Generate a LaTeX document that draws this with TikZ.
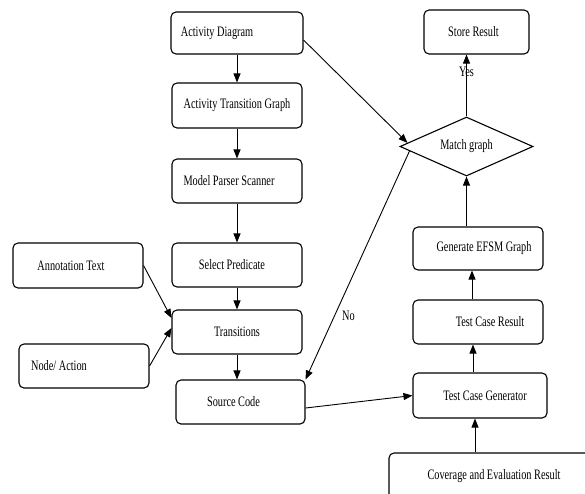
\documentclass[tikz,border=0pt]{standalone}
\usepackage{fontspec}
\setmainfont{Liberation Serif}
\usepackage{graphicx}
\usetikzlibrary{arrows.meta, positioning, shapes.geometric, calc}
\newcommand{\tallText}[1]{\scalebox{1}[1.4]{#1}}

\begin{document}
\begin{tikzpicture}[x=1pt, y=-1pt,
    box/.style={draw, line width=1.1pt, rounded corners=5pt, minimum width=130pt, minimum height=44pt, inner sep=2pt, font=\fontsize{10.3}{12}\selectfont},
    decision/.style={draw, diamond, line width=1.1pt, aspect=2.25, inner sep=0pt, minimum width=133pt, minimum height=59pt, font=\fontsize{10.3}{12}\selectfont},
    arrow/.style={-{Triangle[length=9pt, width=7pt]}, line width=0.9pt},
    lbl/.style={font=\fontsize{10.3}{12}\selectfont, inner sep=1pt}
]
    \clip (0,0) rectangle (585,493);

    % Left column
    \node[box, minimum width=132pt, minimum height=42pt] (actdiag) at (237,33) {\tallText{Activity Diagram}\hspace{40pt}\mbox{}};
    \node[box, minimum height=45pt] (atg) at (237,105.5) {\tallText{Activity Transition Graph}};
    \node[box] (parser) at (237,181) {\tallText{Model Parser Scanner}\hspace{16pt}\mbox{}};
    \node[box] (predicate) at (237,265) {\tallText{Select Predicate}\hspace{10pt}\mbox{}};
    \node[box] (trans) at (237,332) {\tallText{Transitions}};
    \node[box, minimum width=129pt] (source) at (240.5,402) {\tallText{Source Code}\hspace{14pt}\mbox{}};

    % Inputs to transitions
    \node[box, minimum height=45pt] (annot) at (78,265.5) {\tallText{Annotation Text}\hspace{14pt}\mbox{}};
    \node[box] (nodeact) at (84,366) {\tallText{Node/ Action}\hspace{50pt}\mbox{}};

    % Right column
    \node[box, minimum width=105pt] (store) at (476.5,32) {\tallText{Store Result}\hspace{6pt}\mbox{}};
    \node[decision] (match) at (466.5,146.5) {\tallText{Match graph}};
    \node[box, minimum height=43pt] (efsm) at (478,248.5) {\hspace{12pt}\tallText{Generate EFSM Graph}};
    \node[box] (tcresult) at (478,322) {\hspace{24pt}\tallText{Test Case Result}};
    \node[box, minimum width=134pt, minimum height=45pt] (tcgen) at (480,395.5) {\hspace{10pt}\tallText{Test Case Generator}};
    \node[box, minimum width=210pt, minimum height=46pt] (coverage) at (494,476) {\tallText{Coverage and Evaluation Result}};

    % Flow down the left column
    \draw[arrow] (actdiag) -- (atg);
    \draw[arrow] (atg) -- (parser);
    \draw[arrow] (parser) -- (predicate);
    \draw[arrow] (predicate) -- (trans);
    \draw[arrow] (trans.south) -- (trans.south |- source.north);
    \draw[arrow] (annot.east) -- ([yshift=14pt]trans.west);
    \draw[arrow] (nodeact.east) -- ([yshift=4pt]trans.west);

    % Matching
    \draw[arrow] ([yshift=-7pt]actdiag.east) -- ($(match.west)!0.12!(match.north)$);
    \draw[arrow] ($(match.west)!0.15!(match.south)$) -- node[lbl, pos=0.72, right=6pt] {\tallText{No}} (source.north east);
    \draw[arrow] (match.north) -- node[lbl, pos=0.72] {\tallText{Yes}} (match.north |- store.south);

    % Flow up the right column
    \draw[arrow] ([yshift=-6pt]source.east) -- (tcgen.west);
    \draw[arrow] ([xshift=-5pt]tcgen.south |- coverage.north) -- ([xshift=-5pt]tcgen.south);
    \draw[arrow] ([xshift=-7pt]tcgen.north) -- ([xshift=-5pt]tcresult.south);
    \draw[arrow] ([xshift=-6pt]tcresult.north) -- ([xshift=-6pt]efsm.south);
    \draw[arrow] (efsm.north -| match.south) -- (match.south);
\end{tikzpicture}
\end{document}
